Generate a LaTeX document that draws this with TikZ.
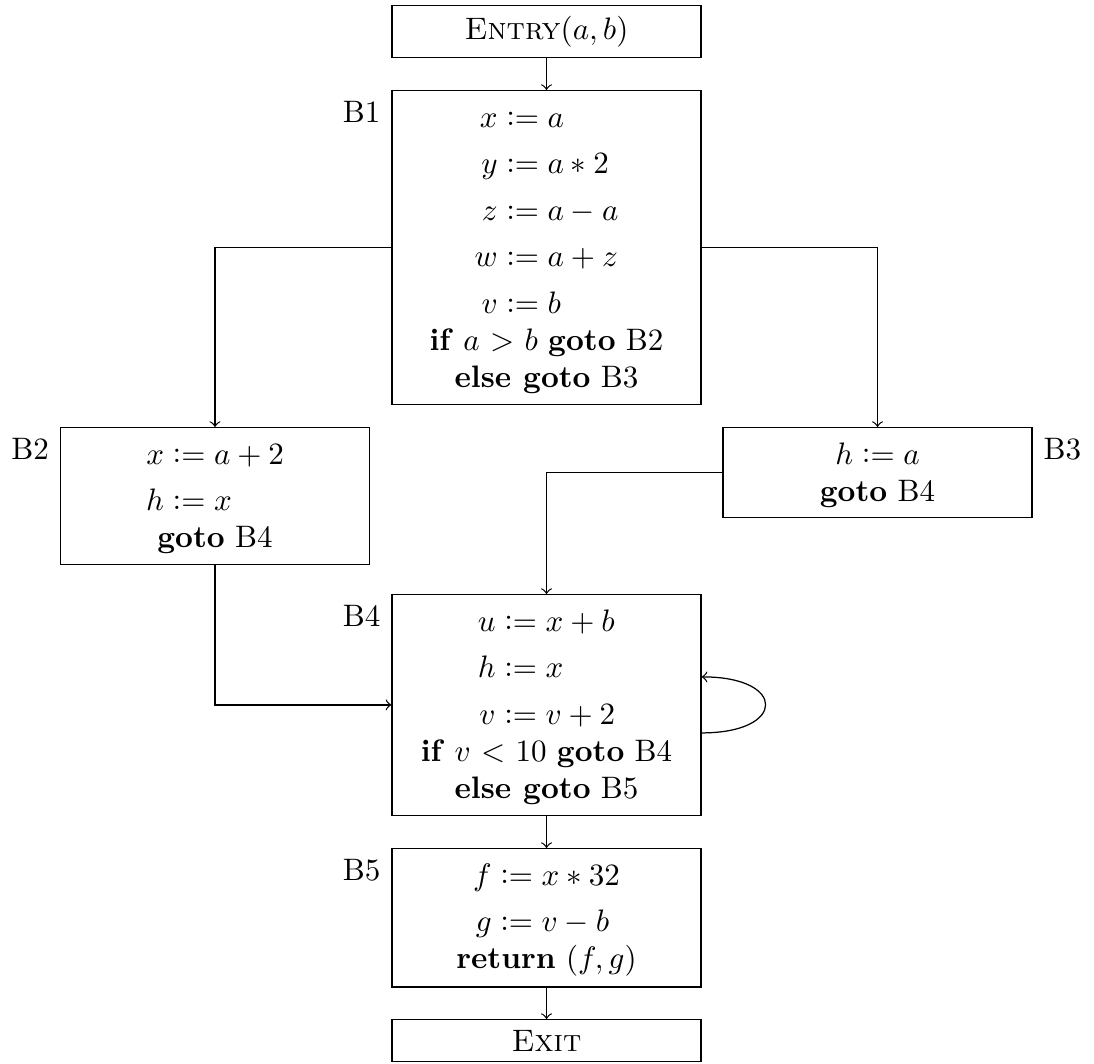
\documentclass[tikz,border=0pt]{standalone}
\usepackage{mathtools}
\usetikzlibrary{calc}
\tikzset{
  blk/.style={draw, minimum width=3.5cm, align=center, inner sep=3.33pt, anchor=north},
  blklbl/.style={inner sep=3.33pt},
  flow/.style={->},
}
\newcommand\asgtab[1]{\begin{tabular}[b]{@{}r@{}l@{}}#1\end{tabular}}
\newcommand\asgn{\mathrel{\vcentcolon}=}
\begin{document}
\begin{tikzpicture}[x=0.3222pt, y=-0.3222pt]
\useasboundingbox (0,0) rectangle (1094,1063);

\node[blk] (Entry) at (546.5,5) {\textsc{Entry}$(a,b)$};

\node[blk] (B1) at (546.5,90) {\asgtab{$x$ & ${}\asgn a$\\[3pt]
  $y$ & ${}\asgn a*2$\\[3pt]
  $z$ & ${}\asgn a-a$\\[3pt]
  $w$ & ${}\asgn a+z$\\[3pt]
  $v$ & ${}\asgn b$}\\
  \textbf{if} $a$ $>$ $b$ \textbf{goto} B2\\
  \textbf{else goto} B3};

\node[blk] (B2) at (215,427) {\asgtab{$x$ & ${}\asgn a+2$\\[3pt]
  $h$ & ${}\asgn x$}\\
  \textbf{goto} B4};

\node[blk] (B3) at (877.5,427) {\asgtab{$h$ & ${}\asgn a$}\\
  \textbf{goto} B4};

\node[blk] (B4) at (546.5,594) {\asgtab{$u$ & ${}\asgn x+b$\\[3pt]
  $h$ & ${}\asgn x$\\[3pt]
  $v$ & ${}\asgn v+2$}\\
  \textbf{if} $v$ $<$ $10$ \textbf{goto} B4\\
  \textbf{else goto} B5};

\node[blk] (B5) at (546.5,848) {\asgtab{$f$ & ${}\asgn x*32$\\[3pt]
  $g$ & ${}\asgn v-b$}\\
  \textbf{return} $(f,g)$};

\node[blk] (Exit) at (546.5,1019) {\textsc{Exit}};

\node[blklbl, anchor=north east] (L1) at (B1.north west) {B1};
\node[blklbl, anchor=north east] (L2) at (B2.north west) {B2};
\node[blklbl, anchor=north west] (L3) at (B3.north east) {B3};
\node[blklbl, anchor=north east] (L4) at (B4.north west) {B4};
\node[blklbl, anchor=north east] (L5) at (B5.north west) {B5};

\draw[flow] (Entry) -- (B1);
\draw[flow] (B1.west) -| (B2.north);
\draw[flow] (B1.east) -| (B3.north);
\draw[flow] (B2.south) |- (B4.west);
\draw[flow] (B3.west) -| (B4.north);
\coordinate (LoopOut) at ($(B4.east)+(0,28)$);
\coordinate (LoopIn) at ($(B4.east)+(0,-28)$);
\draw[flow] (LoopOut) .. controls +(85,0) and +(85,0) .. (LoopIn);
\draw[flow] (B4) -- (B5);
\draw[flow] (B5) -- (Exit);
\end{tikzpicture}
\end{document}
